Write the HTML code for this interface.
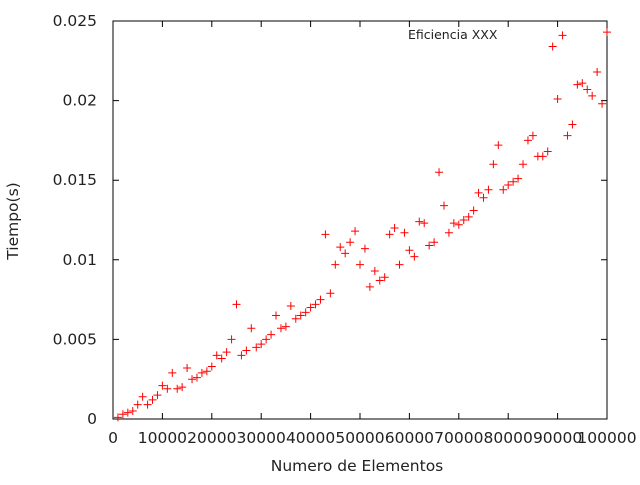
<!DOCTYPE html>
<html><head><meta charset="utf-8"><style>
html,body{margin:0;padding:0;background:#fff;}
svg text{font-family:"DejaVu Sans","Liberation Sans",sans-serif;font-size:15.5px;fill:#222;}
svg text.leg{font-size:12.5px;}
</style></head><body>
<svg id="chart" width="640" height="480" xmlns="http://www.w3.org/2000/svg">
<g id="axes"></g>
<g id="points"></g>
<text class="leg" x="408" y="39" text-anchor="start">Eficiencia XXX</text>
<text x="357" y="471" text-anchor="middle">Numero de Elementos</text>
<text x="18" y="221" text-anchor="middle" transform="rotate(-90 18 221)">Tiempo(s)</text>
</svg>
<script>
const xValues = [1000,2000,3000,4000,5000,6000,7000,8000,9000,10000,11000,12000,13000,14000,15000,16000,17000,18000,19000,20000,21000,22000,23000,24000,25000,26000,27000,28000,29000,30000,31000,32000,33000,34000,35000,36000,37000,38000,39000,40000,41000,42000,43000,44000,45000,46000,47000,48000,49000,50000,51000,52000,53000,54000,55000,56000,57000,58000,59000,60000,61000,62000,63000,64000,65000,66000,67000,68000,69000,70000,71000,72000,73000,74000,75000,76000,77000,78000,79000,80000,81000,82000,83000,84000,85000,86000,87000,88000,89000,90000,91000,92000,93000,94000,95000,96000,97000,98000,99000,100000];
const yValues = [0.0001,0.0003,0.0004,0.0005,0.0009,0.0014,0.0009,0.0012,0.0015,0.0021,0.0019,0.0029,0.0019,0.002,0.0032,0.0025,0.0026,0.0029,0.003,0.0033,0.004,0.0038,0.0042,0.005,0.0072,0.004,0.0043,0.0057,0.0045,0.0047,0.005,0.0053,0.0065,0.0057,0.0058,0.0071,0.0063,0.0065,0.0067,0.007,0.0072,0.0075,0.0116,0.0079,0.0097,0.0108,0.0104,0.0111,0.0118,0.0097,0.0107,0.0083,0.0093,0.0087,0.0089,0.0116,0.012,0.0097,0.0117,0.0106,0.0102,0.0124,0.0123,0.0109,0.0111,0.0155,0.0134,0.0117,0.0123,0.0122,0.0125,0.0127,0.0131,0.0142,0.0139,0.0144,0.016,0.0172,0.0144,0.0147,0.0149,0.0151,0.016,0.0175,0.0178,0.0165,0.0165,0.0168,0.0234,0.0201,0.0241,0.0178,0.0185,0.021,0.0211,0.0207,0.0203,0.0218,0.0198,0.0243];
const xTicks = [0,10000,20000,30000,40000,50000,60000,70000,80000,90000,100000];
const yTicks = [0,0.005,0.01,0.015,0.02,0.025];
const yTickLabels = ["0","0.005","0.01","0.015","0.02","0.025"];

const L=113,R=607,T=21,B=419,NS="http://www.w3.org/2000/svg";
const sx=v=>L+(v-0)/100000*(R-L);
const sy=v=>B-(v-0)/0.025*(B-T);
function mk(tag,attrs,parent){const e=document.createElementNS(NS,tag);for(const k in attrs)e.setAttribute(k,attrs[k]);parent.appendChild(e);return e;}
const ax=document.getElementById('axes');
const frame=mk('rect',{x:L,y:T,width:R-L,height:B-T,fill:'none',stroke:'#000','stroke-width':1},ax);


xTicks.forEach(v=>{
  const x=sx(v);
  const t=mk('path',{d:`M${x},${B}v-6M${x},${T}v6`,stroke:'#000','stroke-width':1},ax);
  
  
  const l=mk('text',{x:x,y:B+24,'text-anchor':'middle'},ax);
  l.textContent=String(v);
  
  
});
yTicks.forEach((v,i)=>{
  const y=sy(v);
  const t=mk('path',{d:`M${L},${y}h6M${R},${y}h-6`,stroke:'#000','stroke-width':1},ax);
  
  
  const l=mk('text',{x:L-16,y:y+5,'text-anchor':'end'},ax);
  l.textContent=yTickLabels[i];
  
  
});
const pg=document.getElementById('points');
xValues.forEach((xv,i)=>{
  const x=sx(xv),y=sy(yValues[i]);
  const p=mk('path',{d:`M${x-4},${y}h8M${x},${y-4}v8`,stroke:'#f00','stroke-width':1},pg);
  
  
});
</script>
</body></html>
